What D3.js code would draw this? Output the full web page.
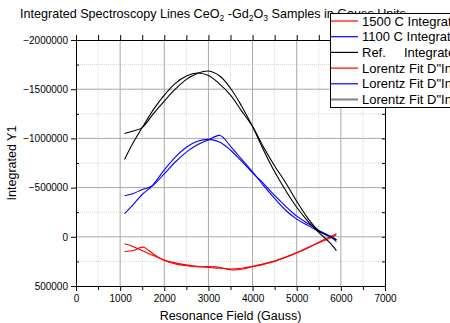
<!DOCTYPE html>
<html>
<head>
<meta charset="utf-8">
<script src="https://cdn.jsdelivr.net/npm/d3@7"></script>
<style>
  html, body { margin: 0; padding: 0; background: #fff; }
  svg { display: block; font-family: "Liberation Sans", Arial, sans-serif; }
</style>
</head>
<body>
<svg id="chart" width="450" height="323"></svg>
<script>
// field positions (Gauss)
const fieldRef = [1100, 1300, 1500, 1750, 2000, 2250, 2500, 2750, 3000, 3250, 3500, 3750, 4000, 4250, 4500, 4750, 5000, 5250, 5500, 5750, 5900];
const refIntegral = [-786000, -960000, -1110000, -1290000, -1440000, -1560000, -1635000, -1665000, -1640000, -1555000, -1440000, -1280000, -1120000, -910000, -720000, -550000, -360000, -190000, -60000, 0, 30000];
const refFit = [-1050000, -1075000, -1110000, -1250000, -1380000, -1500000, -1600000, -1660000, -1685000, -1636000, -1510000, -1330000, -1120000, -880000, -660000, -470000, -300000, -160000, -45000, 60000, 140000];

const field1100 = [1100, 1300, 1500, 1715, 2000, 2250, 2500, 2750, 3000, 3262, 3500, 3750, 4000, 4250, 4500, 4750, 5000, 5250, 5500, 5750, 5900];
const int1100 = [-418000, -440000, -480000, -513000, -640000, -760000, -860000, -935000, -985000, -1030000, -920000, -790000, -660000, -520000, -390000, -270000, -180000, -115000, -55000, -5000, 50000];
const fit1100 = [-235000, -330000, -430000, -513000, -680000, -810000, -910000, -970000, -990000, -960000, -880000, -770000, -650000, -540000, -420000, -310000, -210000, -135000, -65000, -10000, 30000];

const field1500 = [1100, 1300, 1400, 1525, 1650, 1800, 2000, 2250, 2500, 2750, 3000, 3250, 3500, 3750, 4000, 4250, 4500, 4750, 5000, 5250, 5500, 5750, 5900];
const int1500 = [150000, 140000, 120000, 105000, 140000, 190000, 240000, 275000, 295000, 305000, 303000, 310000, 335000, 330000, 305000, 280000, 250000, 210000, 165000, 115000, 55000, 0, -30000];
const fieldFit1500 = [1100, 1300, 1500, 1750, 2000, 2250, 2500, 2750, 3000, 3250, 3500, 3750, 4000, 4250, 4500, 4750, 5000, 5250, 5500, 5750, 5900];
const fit1500 = [71000, 100000, 140000, 190000, 235000, 265000, 285000, 300000, 312000, 320000, 327000, 320000, 300000, 275000, 245000, 205000, 160000, 110000, 60000, 15000, -20000];

const xTicks = [0, 1000, 2000, 3000, 4000, 5000, 6000, 7000];
const yTicks = [-2000000, -1500000, -1000000, -500000, 0, 500000];

const legendLabels = ['1500 C Integrated Y1', '1100 C Integrated Y1', 'Ref.     Integrated Y1',
  'Lorentz Fit D"Integrated Y1', 'Lorentz Fit D"Integrated Y1', 'Lorentz Fit D"Integrated Y1'];
const legendColors = ['#ff0000', '#0000ff', '#000000', '#ff0000', '#0000ff', '#808080'];

const svg = d3.select('#chart');
const pLeft = 76, pRight = 385, pTop = 40, pBottom = 286;

const x = d3.scaleLinear().domain([0, 7000]).range([pLeft, pRight]);
const y = d3.scaleLinear().domain([-2000000, 500000]).range([pTop, pBottom]);

/* ========== GRID ========== */
const minorX = d3.range(500, 7000, 1000);
const minorY = d3.range(-1750000, 500000, 500000);

svg.append('g').selectAll('line').data(minorX).join('line')
  .attr('x1', d => x(d)).attr('x2', d => x(d)).attr('y1', pTop).attr('y2', pBottom)
  .attr('stroke', '#d4d4d4').attr('stroke-dasharray', '1,1');
svg.append('g').selectAll('line').data(minorY).join('line')
  .attr('y1', d => y(d)).attr('y2', d => y(d)).attr('x1', pLeft).attr('x2', pRight)
  .attr('stroke', '#d4d4d4').attr('stroke-dasharray', '1,1');
svg.append('g').selectAll('line').data(xTicks.slice(1, -1)).join('line')
  .attr('x1', d => x(d)).attr('x2', d => x(d)).attr('y1', pTop).attr('y2', pBottom)
  .attr('stroke', '#a8a8a8');
svg.append('g').selectAll('line').data(yTicks.slice(1, -1)).join('line')
  .attr('y1', d => y(d)).attr('y2', d => y(d)).attr('x1', pLeft).attr('x2', pRight)
  .attr('stroke', '#a8a8a8');

/* ========== CURVES ========== */
const line = d3.line()
  .x(d => x(d[0]))
  .y(d => y(d[1]))
  .curve(d3.curveCatmullRom.alpha(0.5));

const series = [
  { xs: field1500, ys: int1500, color: '#ff0000' },
  { xs: fieldFit1500, ys: fit1500, color: '#ff0000' },
  { xs: field1100, ys: int1100, color: '#0000ff' },
  { xs: field1100, ys: fit1100, color: '#0000ff' },
  { xs: fieldRef, ys: refIntegral, color: '#000000' },
  { xs: fieldRef, ys: refFit, color: '#000000' }
];

svg.append('g').selectAll('path').data(series).join('path')
  .attr('fill', 'none')
  .attr('stroke', d => d.color)
  .attr('stroke-width', 1.1)
  .attr('d', d => line(d.xs.map((v, i) => [v, d.ys[i]])));

/* ========== AXES ========== */
const axisFont = g => g.selectAll('text').attr('font-size', 10).attr('fill', '#000')
  .attr('font-family', '"Liberation Sans", Arial, sans-serif');

const minorXT = d3.range(0, 7001, 500);
svg.append('g').attr('transform', `translate(0,${pBottom})`)
  .call(d3.axisBottom(x).tickValues(xTicks).tickSize(5).tickPadding(4).tickFormat(d3.format('d')).tickSizeOuter(0))
  .call(axisFont);
svg.append('g').attr('transform', `translate(0,${pBottom})`)
  .call(d3.axisBottom(x).tickValues(minorXT.filter(d => d % 1000)).tickSize(4).tickFormat('').tickSizeOuter(0));

svg.append('g').attr('transform', `translate(0,${pTop})`)
  .call(d3.axisTop(x).tickValues(minorXT).tickSize(5).tickFormat('').tickSizeOuter(0));

svg.append('g').attr('transform', `translate(${pLeft},0)`)
  .call(d3.axisLeft(y).tickValues(yTicks).tickSize(5).tickPadding(3).tickFormat(d3.format('d')).tickSizeOuter(0))
  .call(axisFont);
svg.append('g').attr('transform', `translate(${pLeft},0)`)
  .call(d3.axisRight(y).tickValues(minorY).tickSize(3).tickFormat('').tickSizeOuter(0));

svg.append('g').attr('transform', `translate(${pRight},0)`)
  .call(d3.axisLeft(y).tickValues(d3.range(-2000000, 500001, 250000)).tickSize(3).tickFormat('').tickSizeOuter(0));

svg.selectAll('.domain').attr('stroke', '#000');
svg.selectAll('.tick line').attr('stroke', '#000');

/* ========== TITLES ========== */
svg.append('text')
  .attr('x', (pLeft + pRight) / 2).attr('y', 320)
  .attr('text-anchor', 'middle').attr('font-size', 12.5)
  .text('Resonance Field (Gauss)');

svg.append('text')
  .attr('transform', `translate(16,${(pTop + pBottom) / 2}) rotate(-90)`)
  .attr('text-anchor', 'middle').attr('font-size', 12.5)
  .text('Integrated Y1');

const title = svg.append('text').attr('x', 20).attr('y', 18).attr('font-size', 12.6);
title.append('tspan').text('Integrated Spectroscopy Lines CeO');
title.append('tspan').attr('font-size', 8.5).attr('dy', 3).text('2');
title.append('tspan').attr('dy', -3).text(' -Gd');
title.append('tspan').attr('font-size', 8.5).attr('dy', 3).text('2');
title.append('tspan').attr('dy', -3).text('O');
title.append('tspan').attr('font-size', 8.5).attr('dy', 3).text('3');
title.append('tspan').attr('dy', -3).text(' Samples in Gauss Units');

/* ========== LEGEND ========== */
const legend = svg.append('g');
legend.append('rect')
  .attr('x', 330.5).attr('y', 13.5).attr('width', 140).attr('height', 94)
  .attr('fill', '#fff').attr('stroke', '#000');

legend.selectAll('line').data(legendLabels).join('line')
  .attr('x1', 331).attr('x2', 358)
  .attr('y1', (d, i) => 21 + i * 15.7).attr('y2', (d, i) => 21 + i * 15.7)
  .attr('stroke', (d, i) => legendColors[i])
  .attr('stroke-width', (d, i) => i === 5 ? 2 : 1.2);

legend.selectAll('text').data(legendLabels).join('text')
  .attr('x', 362).attr('y', (d, i) => 25.5 + i * 15.7)
  .attr('font-size', 13)
  .style('white-space', 'pre')
  .text(d => d);
</script>
</body>
</html>
